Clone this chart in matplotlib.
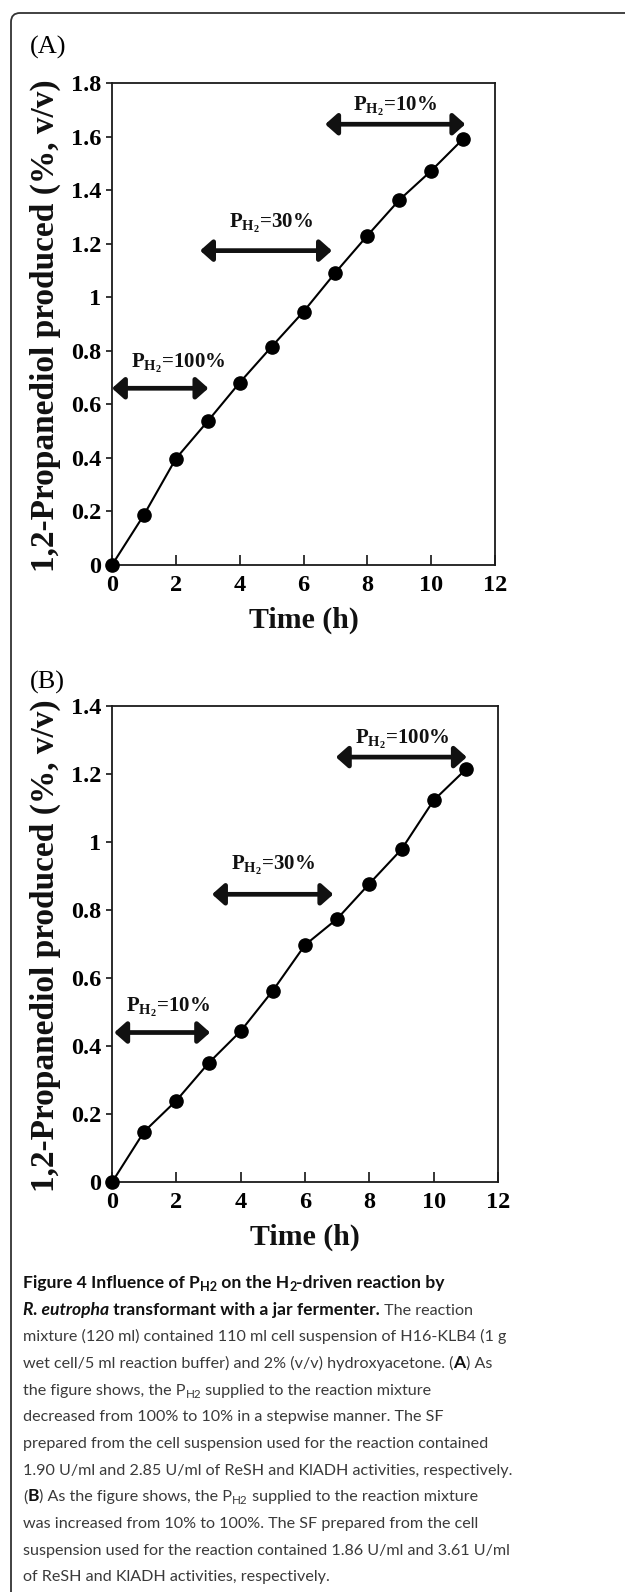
import matplotlib
matplotlib.use("Agg")
import matplotlib.pyplot as plt
from matplotlib.patches import FancyBboxPatch
from matplotlib.transforms import IdentityTransform

# data
hours = [0, 1, 2, 3, 4, 5, 6, 7, 8, 9, 10, 11]
prod_a = [0, 0.187, 0.397, 0.537, 0.681, 0.815, 0.946, 1.092, 1.230, 1.363, 1.472, 1.591]
prod_b = [0, 0.149, 0.240, 0.350, 0.444, 0.563, 0.697, 0.774, 0.877, 0.978, 1.122, 1.213]

# P_H2 phases: label, start (h), end (h), arrow height
phases_a = [("100%", 0.0, 3.02, 0.66), ("30%", 2.76, 6.89, 1.174), ("10%", 6.68, 11.07, 1.646)]
phases_b = [("10%", 0.07, 3.05, 0.44), ("30%", 3.11, 6.88, 0.846), ("100%", 6.96, 11.03, 1.249)]
# label anchor (x, baseline y) for each phase
labels_a = [(2.09, 0.735), (4.97, 1.26), (8.87, 1.695)]
labels_b = [(1.73, 0.501), (5.0, 0.917), (9.03, 1.288)]

W, H = 625, 1592
SERIF = "Liberation Serif"
CAP_FONT = "Lato"
CAP_SIZE = 11.6
CAP_BOLD = 12.6

plt.rcParams["mathtext.fontset"] = "custom"
plt.rcParams["mathtext.rm"] = "Liberation Serif"
plt.rcParams["mathtext.bf"] = "Liberation Serif:bold"
plt.rcParams["mathtext.it"] = "Liberation Serif:italic"

fig = plt.figure(figsize=(W / 100, H / 100), dpi=100)


def px_axes(left, top, right, bottom):
    return fig.add_axes([left / W, 1 - bottom / H, (right - left) / W, (bottom - top) / H])


def panel(ax, y, ymax, phases, labels):
    ax.plot(hours, y, color="black", lw=1.5, marker="o", ms=9.5,
            markerfacecolor="black", markeredgecolor="black", clip_on=False, zorder=3)
    ax.set_xlim(0, 12)
    ax.set_ylim(0, ymax)
    ax.set_xticks(range(0, 13, 2))
    yt = [round(0.2 * i, 1) for i in range(int(round(ymax / 0.2)) + 1)]
    ax.set_yticks(yt)
    ax.set_yticklabels(["%g" % v for v in yt])
    for s in ax.spines.values():
        s.set_linewidth(1.3)
        s.set_color("#1a1a1a")
    ax.tick_params(axis="x", direction="in", length=7, width=1.1, pad=7)
    ax.tick_params(axis="y", direction="out", length=4.5, width=1.1, pad=3)
    for lab in ax.get_xticklabels() + ax.get_yticklabels():
        lab.set_fontfamily(SERIF)
        lab.set_fontweight("bold")
        lab.set_fontsize(17.5)
    for (name, x0, x1, yy), (lx, ly) in zip(phases, labels):
        ax.annotate("", xy=(x1, yy), xytext=(x0, yy),
                    arrowprops=dict(arrowstyle="<|-|>,head_length=0.45,head_width=0.4",
                                    lw=3.4, color="#111111", mutation_scale=16,
                                    shrinkA=0, shrinkB=0), annotation_clip=False)
        ax.text(lx, ly, r"$\mathbf{P_{H_2}}$=" + name, ha="center", va="baseline",
                fontfamily=SERIF, fontweight="bold", fontsize=15, color="#111111")


ax_a = px_axes(112, 83, 495, 565)
panel(ax_a, prod_a, 1.8, phases_a, labels_a)
ax_b = px_axes(112, 705.7, 498, 1182.3)
panel(ax_b, prod_b, 1.4, phases_b, labels_b)

ylab = "1,2-Propanediol produced (%, v/v)"
for tag, tag_y, lab_y, time_x, time_y in [("(A)", 47, 326, 303.5, 620), ("(B)", 682, 946, 305, 1237)]:
    fig.text(30 / W, 1 - tag_y / H, tag, ha="left", va="center", fontfamily=SERIF, fontsize=19)
    fig.text(45 / W, 1 - lab_y / H, ylab, ha="center", va="center", rotation=90,
             fontfamily=SERIF, fontweight="bold", fontsize=24, color="#111111")
    fig.text(time_x / W, 1 - time_y / H, "Time (h)", ha="center", va="center",
             fontfamily=SERIF, fontweight="bold", fontsize=21.5, color="#111111")

# frame around the figure (runs off the right and bottom edges)
fig.add_artist(FancyBboxPatch((11, -30), 700, H - 13 + 30,
                              boxstyle="round,pad=0,rounding_size=9",
                              transform=IdentityTransform(), fill=False,
                              edgecolor="#333333", lw=1.3))

# caption: each line is a list of (text, weight, style, subscript)
R, B = "normal", "bold"
caption = [
    [("Figure 4 Influence of P", B, "normal", False), ("H2", B, "normal", True),
     (" on the H", B, "normal", False), ("2", B, "normal", True),
     ("-driven reaction by", B, "normal", False)],
    [("R. eutropha", B, "italic", False), (" transformant with a jar fermenter.", B, "normal", False),
     (" The reaction", R, "normal", False)],
    [("mixture (120 ml) contained 110 ml cell suspension of H16-KLB4 (1 g", R, "normal", False)],
    [("wet cell/5 ml reaction buffer) and 2% (v/v) hydroxyacetone. (", R, "normal", False),
     ("A", B, "normal", False), (") As", R, "normal", False)],
    [("the figure shows, the P", R, "normal", False), ("H2", R, "normal", True),
     (" supplied to the reaction mixture", R, "normal", False)],
    [("decreased from 100% to 10% in a stepwise manner. The SF", R, "normal", False)],
    [("prepared from the cell suspension used for the reaction contained", R, "normal", False)],
    [("1.90 U/ml and 2.85 U/ml of ReSH and KlADH activities, respectively.", R, "normal", False)],
    [("(", R, "normal", False), ("B", B, "normal", False),
     (") As the figure shows, the P", R, "normal", False), ("H2", R, "normal", True),
     (" supplied to the reaction mixture", R, "normal", False)],
    [("was increased from 10% to 100%. The SF prepared from the cell", R, "normal", False)],
    [("suspension used for the reaction contained 1.86 U/ml and 3.61 U/ml", R, "normal", False)],
    [("of ReSH and KlADH activities, respectively.", R, "normal", False)],
]

renderer = fig.canvas.get_renderer()
for i, parts in enumerate(caption):
    x = 23.0
    base = 1288 + 26.67 * i
    for txt, weight, style, sub in parts:
        size = CAP_BOLD if weight == B else CAP_SIZE
        if sub:
            size *= 0.72
        y = base + (3 if sub else 0)
        color = "#111111" if weight == B else "#3a3a3a"
        t = fig.text(x / W, 1 - y / H, txt, ha="left", va="baseline", fontfamily=CAP_FONT,
                     fontweight=weight, fontstyle=style, fontsize=size, color=color)
        x += t.get_window_extent(renderer).width

fig.savefig("out.png", dpi=100)
